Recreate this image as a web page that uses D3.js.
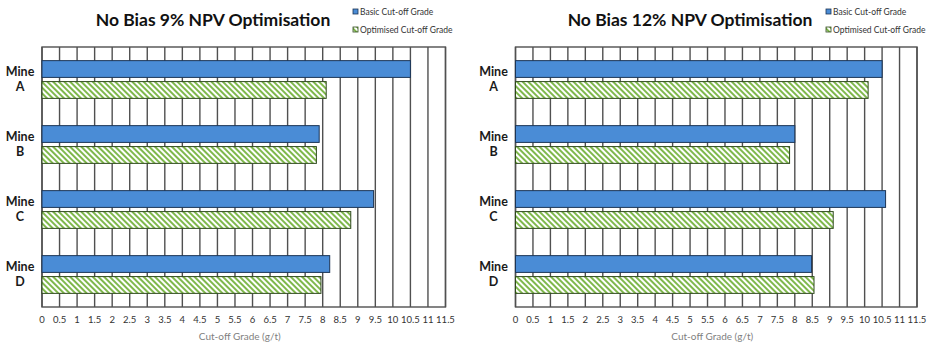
<!DOCTYPE html>
<html>
<head>
  <meta charset="utf-8">
  <title>No Bias NPV Optimisation</title>
  <script src="https://cdn.jsdelivr.net/npm/d3@7"></script>
  <style>
    body { margin: 0; background: #fff; }
    text { font-family: Lato, "Open Sans", sans-serif; }
  </style>
</head>
<body>
  <script>
    // data
    var mines = ["A", "B", "C", "D"];
    var seriesNames = ["Basic Cut-off Grade", "Optimised Cut-off Grade"];
    var ticks = d3.range(0, 11.51, 0.5);

    var basic9 = [10.5, 7.9, 9.45, 8.2];
    var optimised9 = [8.1, 7.82, 8.8, 7.95];
    var basic12 = [10.5, 8.0, 10.6, 8.48];
    var optimised12 = [10.1, 7.85, 9.1, 8.55];

    var w = 933, h = 347;
    var svg = d3.select("body").append("svg")
        .attr("width", w)
        .attr("height", h);

    // hatch for the optimised bars
    var defs = svg.append("defs");
    var pat = defs.append("pattern")
        .attr("id", "hatch")
        .attr("patternUnits", "userSpaceOnUse")
        .attr("width", 4)
        .attr("height", 4)
        .attr("patternTransform", "rotate(-45)");
    pat.append("rect").attr("width", 4).attr("height", 4).attr("fill", "#fff");
    pat.append("rect").attr("width", 2).attr("height", 4).attr("fill", "#7fb84c");

    function drawChart(opts) {
      var g = svg.append("g");
      var top = 47, bottom = 307;

      var x = d3.scaleLinear().domain([0, 11.5]).range([opts.left, opts.right]);
      var y = d3.scaleBand().domain(mines).range([top, bottom]);
      var ySub = d3.scaleBand().domain([0, 1]).range([0, y.bandwidth()])
          .paddingInner(0.2).paddingOuter(0.65);

      // grid lines
      g.selectAll("line.grid")
          .data(ticks)
          .enter()
          .append("line")
          .attr("class", "grid")
          .attr("x1", function(d) { return x(d); })
          .attr("x2", function(d) { return x(d); })
          .attr("y1", top)
          .attr("y2", bottom)
          .attr("stroke", "#505050")
          .attr("stroke-width", 1.4);

      g.append("rect")
          .attr("x", x(0))
          .attr("y", top)
          .attr("width", x(11.5) - x(0))
          .attr("height", bottom - top)
          .attr("fill", "none")
          .attr("stroke", "#505050")
          .attr("stroke-width", 1.4);

      // bars
      var rows = mines.map(function(m, i) {
        return { mine: m, values: [opts.basic[i], opts.optimised[i]] };
      });
      var groups = g.selectAll("g.mine")
          .data(rows)
          .enter()
          .append("g")
          .attr("transform", function(d) { return "translate(0," + y(d.mine) + ")"; });

      groups.selectAll("rect")
          .data(function(d) { return d.values; })
          .enter()
          .append("rect")
          .attr("x", x(0))
          .attr("y", function(d, i) { return ySub(i); })
          .attr("width", function(d) { return x(d) - x(0); })
          .attr("height", ySub.bandwidth())
          .attr("fill", function(d, i) { return i == 0 ? "#4a8cd6" : "url(#hatch)"; })
          .attr("stroke", function(d, i) { return i == 0 ? "#1c3556" : "#2f4a1c"; })
          .attr("stroke-width", 1);

      // category labels
      var labels = g.selectAll("text.cat")
          .data(mines)
          .enter()
          .append("text")
          .attr("class", "cat")
          .attr("x", x(0) - 22)
          .attr("y", function(d) { return y(d) + y.bandwidth() / 2; })
          .attr("text-anchor", "middle")
          .style("font-size", "12.5px")
          .style("font-weight", "bold")
          .attr("fill", "#1a1a1a");
      labels.append("tspan").attr("x", x(0) - 22).attr("dy", "-0.25em").text("Mine");
      labels.append("tspan").attr("x", x(0) - 22).attr("dy", "1.15em").text(function(d) { return d; });

      // x axis tick labels
      g.selectAll("text.tick")
          .data(ticks)
          .enter()
          .append("text")
          .attr("class", "tick")
          .attr("x", function(d) { return x(d); })
          .attr("y", 323)
          .attr("text-anchor", "middle")
          .style("font-size", "9.5px")
          .attr("fill", "#333")
          .text(function(d) { return d3.format("~g")(d); });

      g.append("text")
          .attr("x", (x(0) + x(11.5)) / 2 - 4)
          .attr("y", 340)
          .attr("text-anchor", "middle")
          .style("font-size", "10px")
          .attr("fill", "#7f7f7f")
          .text("Cut-off Grade (g/t)");

      // title
      g.append("text")
          .attr("x", opts.titleX)
          .attr("y", 26)
          .attr("text-anchor", "middle")
          .style("font-size", "17.5px")
          .style("font-weight", "bold")
          .attr("fill", "#111")
          .text(opts.title);

      // legend
      var leg = g.selectAll("g.leg")
          .data(seriesNames)
          .enter()
          .append("g")
          .attr("transform", function(d, i) { return "translate(" + opts.legendX + "," + (12 + i * 18) + ")"; });
      leg.append("rect")
          .attr("x", 0)
          .attr("y", -3)
          .attr("width", 5)
          .attr("height", 5)
          .attr("fill", function(d, i) { return i == 0 ? "#4a8cd6" : "url(#hatch)"; })
          .attr("stroke", function(d, i) { return i == 0 ? "#1c3556" : "#2f4a1c"; })
          .attr("stroke-width", 0.8);
      leg.append("text")
          .attr("x", 7)
          .attr("y", 3)
          .style("font-size", "8.5px")
          .attr("fill", "#333")
          .text(function(d) { return d; });
    }

    drawChart({
      title: "No Bias 9% NPV Optimisation",
      left: 42, right: 445.5, titleX: 213, legendX: 353,
      basic: basic9, optimised: optimised9
    });

    drawChart({
      title: "No Bias 12% NPV Optimisation",
      left: 515.5, right: 917, titleX: 690, legendX: 826,
      basic: basic12, optimised: optimised12
    });
  </script>
</body>
</html>
